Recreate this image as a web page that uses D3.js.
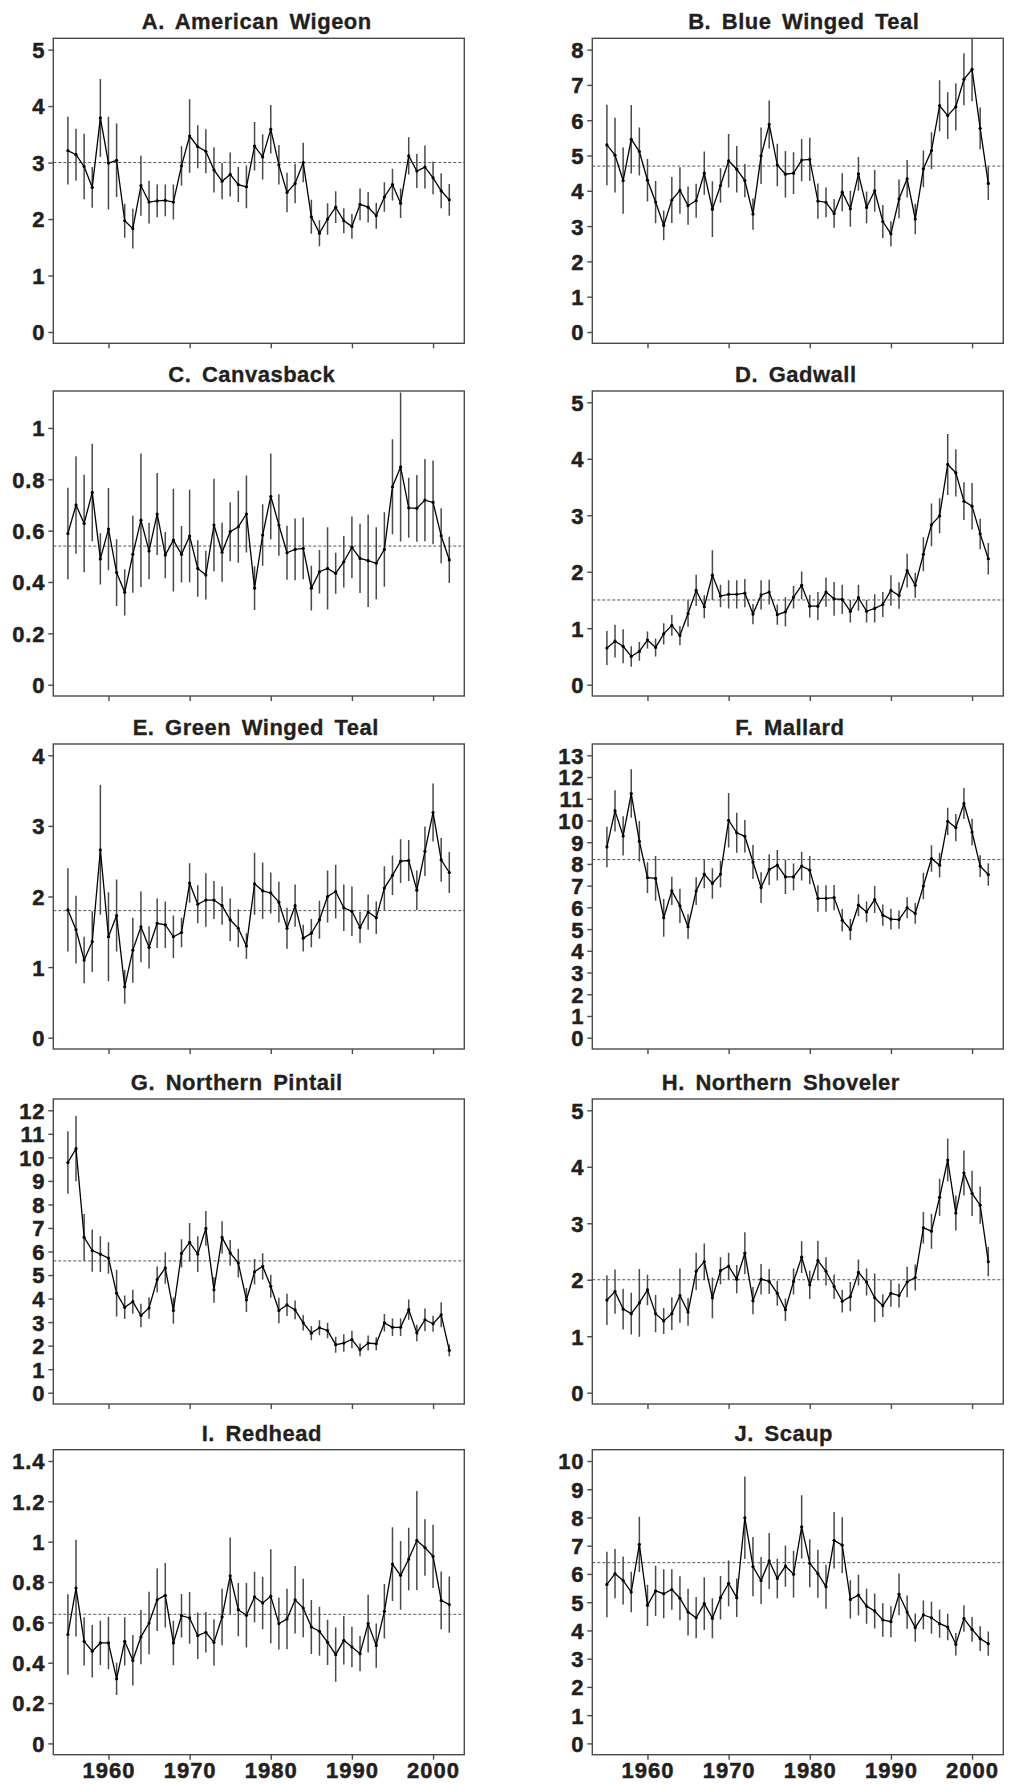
<!DOCTYPE html>
<html>
<head>
<meta charset="utf-8">
<script src="https://cdn.jsdelivr.net/npm/d3@7"></script>
<style>
  body { margin: 0; background: #fff; }
  text { font-family: "Liberation Sans", Arial, sans-serif; font-weight: bold; fill: #231f20; }
</style>
</head>
<body>
<svg id="chart" width="1009" height="1785"></svg>
<script>
// survey years
const years = d3.range(1955, 2003);
const yearTicks = [1960, 1970, 1980, 1990, 2000];

const titles = ["A. American Wigeon", "B. Blue Winged Teal", "C. Canvasback", "D. Gadwall",
  "E. Green Winged Teal", "F. Mallard", "G. Northern Pintail", "H. Northern Shoveler",
  "I. Redhead", "J. Scaup"];
const yMax = [5, 8, 1.1, 5, 4, 13, 12, 5, 1.4, 10];
const yStep = [1, 1, 0.2, 1, 1, 1, 1, 1, 0.2, 1];
const longTermMean = [3.0, 4.7, 0.54, 1.5, 1.8, 8.2, 5.6, 2.0, 0.64, 6.4];

// estimates (millions) and half-width of the error bars
const wigeon = [3.21,3.14,2.93,2.56,3.79,2.99,3.04,1.97,1.83,2.59, 2.30,2.32,2.33,2.30,2.94,3.47,3.28,3.20,2.87,2.67,
  2.79,2.61,2.57,3.29,3.10,3.59,2.96,2.47,2.63,3.00, 2.04,1.75,2.00,2.21,1.97,1.87,2.26,2.21,2.06,2.39, 2.61,2.28,3.12,2.85,2.92,2.73,2.50,2.34];
const wigeonErr = [0.60,0.46,0.58,0.36,0.69,0.82,0.65,0.30,0.35,0.53, 0.38,0.29,0.28,0.31,0.35,0.65,0.38,0.39,0.40,0.32,
  0.39,0.31,0.38,0.43,0.40,0.43,0.35,0.35,0.35,0.35, 0.30,0.23,0.28,0.28,0.22,0.22,0.28,0.27,0.23,0.26, 0.28,0.26,0.33,0.30,0.38,0.29,0.31,0.28];

const blueTeal = [5.30,5.01,4.29,5.46,5.11,4.30,3.68,3.02,3.74,4.01, 3.58,3.72,4.50,3.48,4.15,4.85,4.61,4.29,3.34,4.99,
  5.88,4.73,4.47,4.50,4.87,4.89,3.71,3.67,3.36,3.96, 3.49,4.48,3.53,4.00,3.13,2.78,3.77,4.34,3.20,4.62, 5.14,6.41,6.13,6.38,7.16,7.44,5.77,4.21];
const blueTealErr = [1.14,1.06,0.94,0.97,0.68,0.60,0.60,0.42,0.65,0.66, 0.54,0.48,0.61,0.79,0.49,0.76,0.66,0.47,0.44,0.80,
  0.68,0.60,0.66,0.59,0.60,0.61,0.50,0.42,0.41,0.54, 0.51,0.48,0.45,0.59,0.47,0.36,0.55,0.53,0.43,0.52, 0.52,0.72,0.66,0.67,0.74,0.90,0.59,0.47];

const canvasback = [0.589,0.700,0.628,0.749,0.490,0.606,0.437,0.360,0.508,0.641, 0.521,0.665,0.505,0.563,0.508,0.579,0.453,0.427,0.622,0.516,
  0.596,0.615,0.665,0.376,0.583,0.734,0.622,0.514,0.527,0.531, 0.376,0.440,0.453,0.434,0.479,0.535,0.492,0.483,0.473,0.527, 0.771,0.848,0.689,0.687,0.719,0.710,0.580,0.486];
const canvasbackErr = [0.178,0.19,0.19,0.19,0.10,0.16,0.13,0.09,0.15,0.26, 0.11,0.16,0.09,0.20,0.11,0.18,0.11,0.095,0.18,0.115,
  0.115,0.14,0.15,0.085,0.12,0.167,0.12,0.105,0.12,0.12, 0.087,0.085,0.16,0.08,0.10,0.12,0.135,0.18,0.14,0.145, 0.185,0.29,0.117,0.13,0.16,0.163,0.107,0.09];

const gadwall = [0.65,0.77,0.68,0.50,0.59,0.79,0.66,0.90,1.05,0.87, 1.26,1.67,1.38,1.94,1.57,1.60,1.60,1.62,1.25,1.59,
  1.64,1.24,1.29,1.55,1.76,1.39,1.39,1.64,1.52,1.51, 1.30,1.54,1.30,1.35,1.42,1.67,1.58,2.02,1.76,2.31, 2.83,2.99,3.90,3.75,3.25,3.16,2.67,2.23];
const gadwallErr = [0.30,0.29,0.30,0.18,0.165,0.15,0.16,0.19,0.185,0.17, 0.235,0.275,0.205,0.44,0.20,0.25,0.25,0.25,0.18,0.26,
  0.22,0.18,0.26,0.20,0.245,0.20,0.25,0.26,0.30,0.26, 0.20,0.23,0.20,0.25,0.22,0.27,0.235,0.30,0.22,0.30, 0.38,0.31,0.54,0.42,0.335,0.41,0.27,0.28];

const greenTeal = [1.81,1.53,1.10,1.36,2.66,1.43,1.73,0.72,1.24,1.57, 1.28,1.62,1.60,1.43,1.49,2.19,1.89,1.95,1.95,1.87,
  1.67,1.55,1.30,2.18,2.08,2.05,1.92,1.55,1.87,1.41, 1.48,1.67,2.00,2.07,1.84,1.79,1.56,1.78,1.70,2.12, 2.30,2.50,2.51,2.09,2.64,3.19,2.52,2.34];
const greenTealErr = [0.59,0.48,0.33,0.43,0.92,0.63,0.51,0.24,0.46,0.50, 0.30,0.35,0.33,0.30,0.21,0.28,0.27,0.38,0.27,0.27,
  0.30,0.27,0.18,0.44,0.40,0.29,0.29,0.29,0.30,0.19, 0.20,0.27,0.37,0.38,0.33,0.35,0.22,0.25,0.23,0.31, 0.28,0.31,0.29,0.28,0.35,0.41,0.31,0.29];

const mallard = [8.78,10.44,9.29,11.24,9.04,7.37,7.33,5.52,6.76,6.07, 5.11,6.75,7.53,7.10,7.53,10.01,9.43,9.27,8.09,6.91,
  7.74,7.94,7.40,7.40,7.90,7.71,6.41,6.41,6.45,5.41, 4.98,6.10,5.79,6.36,5.64,5.46,5.44,5.98,5.72,6.98, 8.25,7.94,9.96,9.67,10.78,9.47,7.90,7.51];
const mallardErr = [0.93,0.95,0.90,1.12,0.93,0.71,1.03,0.87,0.65,0.79, 0.57,0.64,0.65,0.70,0.62,1.26,0.92,0.75,0.78,0.71,
  0.71,0.70,0.78,0.62,0.66,0.65,0.61,0.61,0.58,0.52, 0.48,0.50,0.48,0.62,0.49,0.48,0.42,0.48,0.48,0.61, 0.61,0.57,0.63,0.63,0.71,0.61,0.50,0.52];

const pintail = [9.78,10.37,6.60,6.04,5.89,5.72,4.23,3.63,3.87,3.28, 3.60,4.81,5.30,3.49,5.92,6.39,5.89,6.98,4.37,6.60,
  5.94,5.51,3.94,5.14,5.37,4.52,3.49,3.73,3.52,2.97, 2.53,2.76,2.64,2.04,2.11,2.26,1.82,2.11,2.08,2.97, 2.78,2.78,3.53,2.54,3.10,2.93,3.31,1.80];
const pintailErr = [1.33,1.39,0.99,0.90,0.76,0.67,0.99,0.50,0.51,0.50, 0.46,0.55,0.67,0.56,0.60,0.82,0.76,0.74,0.55,0.69,
  0.55,0.61,0.51,0.54,0.56,0.49,0.54,0.47,0.40,0.33, 0.30,0.32,0.33,0.34,0.37,0.37,0.27,0.32,0.28,0.37, 0.37,0.37,0.43,0.35,0.48,0.34,0.53,0.25];

const shoveler = [1.64,1.79,1.48,1.40,1.59,1.82,1.40,1.27,1.40,1.72, 1.43,2.15,2.32,1.68,2.16,2.24,2.01,2.47,1.63,2.01,
  1.97,1.76,1.47,1.97,2.40,1.91,2.34,2.15,1.88,1.62, 1.70,2.13,1.96,1.68,1.54,1.76,1.72,1.96,2.04,2.92, 2.86,3.46,4.12,3.18,3.89,3.53,3.32,2.32];
const shovelerErr = [0.44,0.39,0.36,0.37,0.60,0.27,0.33,0.23,0.29,0.48, 0.245,0.33,0.32,0.36,0.24,0.24,0.25,0.37,0.24,0.27,
  0.22,0.22,0.20,0.23,0.28,0.25,0.35,0.25,0.215,0.20, 0.26,0.23,0.24,0.43,0.20,0.24,0.21,0.27,0.23,0.28, 0.31,0.33,0.38,0.31,0.40,0.40,0.33,0.26];

const redhead = [0.54,0.77,0.506,0.457,0.498,0.498,0.32,0.506,0.412,0.528, 0.597,0.712,0.734,0.498,0.633,0.622,0.534,0.551,0.501,0.627,
  0.831,0.663,0.635,0.726,0.696,0.729,0.594,0.617,0.712,0.671, 0.577,0.556,0.501,0.44,0.511,0.478,0.445,0.594,0.485,0.655, 0.889,0.833,0.914,1.006,0.971,0.927,0.709,0.688];
const redheadErr = [0.20,0.24,0.12,0.13,0.11,0.13,0.08,0.12,0.125,0.135, 0.155,0.155,0.16,0.11,0.108,0.128,0.115,0.10,0.115,0.14,
  0.19,0.132,0.16,0.125,0.13,0.233,0.128,0.15,0.167,0.145, 0.134,0.122,0.112,0.134,0.12,0.10,0.087,0.143,0.11,0.135, 0.183,0.17,0.155,0.245,0.14,0.157,0.143,0.139];

const scaup = [5.63,6.01,5.77,5.36,7.05,4.89,5.40,5.30,5.45,5.14, 4.65,4.45,4.95,4.43,5.16,5.67,5.16,7.99,6.26,5.77,
  6.46,5.84,6.28,5.99,7.67,6.38,6.01,5.55,7.19,7.02, 5.10,5.25,4.86,4.69,4.37,4.31,5.28,4.65,4.10,4.55, 4.45,4.24,4.12,3.51,4.42,4.04,3.71,3.53];
const scaupErr = [1.16,0.87,0.85,0.72,0.98,0.73,0.89,0.87,0.72,0.78, 0.83,0.73,0.93,0.71,0.77,0.81,0.68,1.46,1.05,0.83,
  0.99,0.70,0.73,0.82,1.12,0.85,0.85,0.78,1.00,0.99, 0.68,0.72,0.62,0.62,0.59,0.55,0.74,0.59,0.50,0.51, 0.57,0.50,0.47,0.40,0.47,0.44,0.44,0.43];

const estimates = [wigeon, blueTeal, canvasback, gadwall, greenTeal, mallard, pintail, shoveler, redhead, scaup];
const errors = [wigeonErr, blueTealErr, canvasbackErr, gadwallErr, greenTealErr, mallardErr, pintailErr, shovelerErr, redheadErr, scaupErr];

// layout
const colLeft = [53.3, 592.3];
const rowTop = [38.3, 391, 744, 1099, 1449.7];
const plotW = 411, plotH = 305;
const titleDx = [-2, 6, -7, -2, -3, -8, -22, -17, 3, -14];

const svg = d3.select("#chart");
const fmt = d3.format(".2~f");

titles.forEach((title, p) => {
  const col = p % 2, row = Math.floor(p / 2);
  const g = svg.append("g").attr("transform", `translate(${colLeft[col]},${rowTop[row]})`);

  const pad = 0.04 * yMax[p];
  const x = d3.scaleLinear().domain([1953.2, 2003.85]).range([0, plotW]);
  const y = d3.scaleLinear().domain([-pad, yMax[p] + pad]).range([plotH, 0]);

  const data = years.map((yr, i) => ({ yr, v: estimates[p][i], e: errors[p][i] }));

  g.append("clipPath").attr("id", "clip" + p)
    .append("rect").attr("width", plotW).attr("height", plotH);

  const inner = g.append("g").attr("clip-path", `url(#clip${p})`);

  inner.append("line")
    .attr("x1", 0).attr("x2", plotW)
    .attr("y1", y(longTermMean[p])).attr("y2", y(longTermMean[p]))
    .attr("stroke", "#555").attr("stroke-width", 1).attr("stroke-dasharray", "3,2");

  inner.selectAll(".err").data(data).join("line")
    .attr("class", "err")
    .attr("x1", d => x(d.yr)).attr("x2", d => x(d.yr))
    .attr("y1", d => y(d.v - d.e)).attr("y2", d => y(d.v + d.e))
    .attr("stroke", "#4a4a4a").attr("stroke-width", 1.5);

  inner.append("path").datum(data)
    .attr("fill", "none").attr("stroke", "#000").attr("stroke-width", 1.3)
    .attr("d", d3.line().x(d => x(d.yr)).y(d => y(d.v)));

  inner.selectAll(".pt").data(data).join("circle")
    .attr("class", "pt")
    .attr("cx", d => x(d.yr)).attr("cy", d => y(d.v)).attr("r", 1.6)
    .attr("fill", "#000");

  g.append("rect").attr("width", plotW).attr("height", plotH)
    .attr("fill", "none").attr("stroke", "#4a4a4a").attr("stroke-width", 1.4);

  const yAxis = g.append("g")
    .call(d3.axisLeft(y).tickValues(d3.range(0, yMax[p] + 1e-9, yStep[p])).tickFormat(fmt).tickSize(5).tickPadding(3));
  yAxis.select(".domain").remove();
  yAxis.selectAll("line").attr("stroke", "#4a4a4a").attr("stroke-width", 1.4);
  yAxis.selectAll("text").attr("font-size", 22).attr("fill", "#231f20")
    .attr("font-family", null).attr("dy", "0.36em").attr("letter-spacing", 0.8)
    .attr("stroke", "#231f20").attr("stroke-width", 0.5);

  const bottomRow = row === 4;
  const xAxis = g.append("g").attr("transform", `translate(0,${plotH})`)
    .call(d3.axisBottom(x).tickValues(yearTicks).tickFormat(bottomRow ? d3.format("d") : "").tickSize(5).tickPadding(3));
  xAxis.select(".domain").remove();
  xAxis.selectAll("line").attr("stroke", "#4a4a4a").attr("stroke-width", 1.4);
  xAxis.selectAll("text").attr("font-size", 22).attr("fill", "#231f20")
    .attr("font-family", null).attr("letter-spacing", 1)
    .attr("stroke", "#231f20").attr("stroke-width", 0.5);

  g.append("text")
    .attr("x", plotW / 2 + titleDx[p]).attr("y", -9)
    .attr("text-anchor", "middle")
    .attr("font-size", 22).attr("letter-spacing", 0.5).attr("word-spacing", 4)
    .attr("stroke", "#231f20").attr("stroke-width", 0.3)
    .text(title);
});
</script>
</body>
</html>
